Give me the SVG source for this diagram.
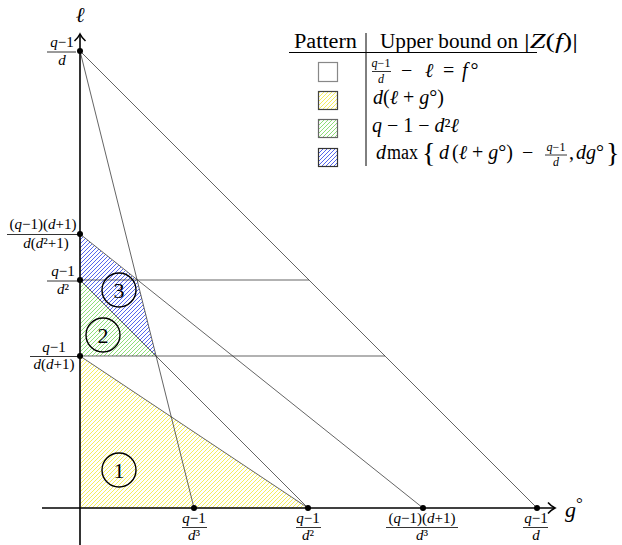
<svg xmlns="http://www.w3.org/2000/svg" width="622" height="545" viewBox="0 0 622 545">
<style>
.t{font-family:"Liberation Serif","DejaVu Serif",serif;fill:#000}
.i{font-style:italic}
.fr{font-size:15px;text-anchor:middle}
.fs{font-size:12px;text-anchor:middle}
.lg{font-size:20px}
.bar{stroke:#000;stroke-width:0.8}
.ln{stroke:#222;stroke-width:0.7;fill:none}
.ax{stroke:#000;stroke-width:1.6;fill:none}
.dot{fill:#000}
.circ{fill:none;stroke:#000;stroke-width:1.4}
.num{font-size:22px;text-anchor:middle}
.box{stroke-width:1.2}
</style>
<defs>
<pattern id="hy" width="4" height="4" patternUnits="userSpaceOnUse"><path d="M-1,1 L1,-1 M0,4 L4,0 M3,5 L5,3" stroke="#f4ee5c" stroke-width="1"/></pattern>
<pattern id="hg" width="4" height="4" patternUnits="userSpaceOnUse"><path d="M-1,1 L1,-1 M0,4 L4,0 M3,5 L5,3" stroke="#8ede78" stroke-width="1"/></pattern>
<pattern id="hb" width="4" height="4" patternUnits="userSpaceOnUse"><path d="M-1,1 L1,-1 M0,4 L4,0 M3,5 L5,3" stroke="#5566ee" stroke-width="1"/></pattern>
</defs>
<rect width="622" height="545" fill="#fff"/>

<g id="regions">
<polygon id="region1" points="80,356 80,508 308,508" fill="url(#hy)"/>
<polygon id="region2" points="80,280 80,356 156,356" fill="url(#hg)"/>
<polygon id="region3" points="80,234 137,280 156,356 80,280" fill="url(#hb)"/>
</g>

<g id="connectors">
<line class="ln" x1="80" y1="51" x2="537" y2="508"/>
<line class="ln" x1="80" y1="51" x2="194" y2="508"/>
<line class="ln" x1="80" y1="234" x2="423" y2="508"/>
<line class="ln" x1="80" y1="280" x2="308" y2="508"/>
<line class="ln" x1="80" y1="356" x2="308" y2="508"/>
<line class="ln" x1="80" y1="280" x2="309" y2="280"/>
<line class="ln" x1="80" y1="356" x2="385" y2="356"/>
</g>

<g id="axes">
<line class="ax" x1="42" y1="508" x2="554" y2="508"/>
<path class="ax" d="M548,502.5 Q551,506 555,508 Q551,510 548,513.5" stroke-width="1.4"/>
<line class="ax" x1="80" y1="545" x2="80" y2="35"/>
<path class="ax" d="M74.5,41 Q78,38 80,34 Q82,38 85.5,41" stroke-width="1.4"/>
<text class="t i" x="80" y="22" font-size="21" text-anchor="middle">ℓ</text>
<text class="t" x="565" y="517" font-size="22"><tspan class="i">g</tspan><tspan font-size="17" dy="-8">°</tspan></text>
</g>

<g id="y1">
<circle class="dot" cx="80" cy="51" r="3"/>
<text class="t fr" x="62" y="47"><tspan class="i">q</tspan>−1</text>
<line class="bar" x1="47" y1="52" x2="76" y2="52"/>
<text class="t fr" x="62" y="65"><tspan class="i">d</tspan></text>
</g>
<g id="y2">
<circle class="dot" cx="80" cy="234" r="3"/>
<text class="t fr" x="43" y="229">(<tspan class="i">q</tspan>−1)(<tspan class="i">d</tspan>+1)</text>
<line class="bar" x1="7" y1="234.5" x2="78" y2="234.5"/>
<text class="t fr" x="46" y="248"><tspan class="i">d</tspan>(<tspan class="i">d</tspan>²+1)</text>
</g>
<g id="y3">
<circle class="dot" cx="80" cy="280" r="3"/>
<text class="t fr" x="63" y="276"><tspan class="i">q</tspan>−1</text>
<line class="bar" x1="47" y1="281" x2="78" y2="281"/>
<text class="t fr" x="63" y="294"><tspan class="i">d</tspan>²</text>
</g>
<g id="y4">
<circle class="dot" cx="80" cy="356" r="3"/>
<text class="t fr" x="54" y="352"><tspan class="i">q</tspan>−1</text>
<line class="bar" x1="30" y1="356.5" x2="78" y2="356.5"/>
<text class="t fr" x="54" y="369"><tspan class="i">d</tspan>(<tspan class="i">d</tspan>+1)</text>
</g>

<g id="x1">
<circle class="dot" cx="194" cy="508" r="3"/>
<text class="t fr" x="194" y="523"><tspan class="i">q</tspan>−1</text>
<line class="bar" x1="182" y1="527.5" x2="207" y2="527.5"/>
<text class="t fr" x="194" y="540"><tspan class="i">d</tspan>³</text>
</g>
<g id="x2">
<circle class="dot" cx="308" cy="508" r="3"/>
<text class="t fr" x="308" y="523"><tspan class="i">q</tspan>−1</text>
<line class="bar" x1="296" y1="527.5" x2="321" y2="527.5"/>
<text class="t fr" x="308" y="540"><tspan class="i">d</tspan>²</text>
</g>
<g id="x3">
<circle class="dot" cx="423" cy="508" r="3"/>
<text class="t fr" x="422" y="523">(<tspan class="i">q</tspan>−1)(<tspan class="i">d</tspan>+1)</text>
<line class="bar" x1="386" y1="527.5" x2="458" y2="527.5"/>
<text class="t fr" x="422" y="540"><tspan class="i">d</tspan>³</text>
</g>
<g id="x4">
<circle class="dot" cx="537" cy="508" r="3"/>
<text class="t fr" x="536" y="523"><tspan class="i">q</tspan>−1</text>
<line class="bar" x1="523" y1="527.5" x2="548" y2="527.5"/>
<text class="t fr" x="536" y="540"><tspan class="i">d</tspan></text>
</g>

<g id="c1"><circle class="circ" cx="119" cy="470" r="17"/><text class="t num" x="119" y="478">1</text></g>
<g id="c2"><circle class="circ" cx="103" cy="335" r="17"/><text class="t num" x="103" y="343">2</text></g>
<g id="c3"><circle class="circ" cx="119" cy="290" r="17"/><text class="t num" x="119" y="298">3</text></g>

<g id="legend">
<text class="t lg" x="294" y="48" textLength="63" lengthAdjust="spacingAndGlyphs">Pattern</text>
<text class="t lg" x="380" y="48" textLength="138" lengthAdjust="spacingAndGlyphs">Upper bound on</text>
<text class="t lg" x="524" y="48" textLength="54" lengthAdjust="spacingAndGlyphs">|<tspan class="i">Z</tspan>(<tspan class="i">f</tspan>)|</text>
<line x1="289" y1="52.5" x2="537" y2="52.5" stroke="#000" stroke-width="1"/>
<line x1="366" y1="33" x2="366" y2="166" stroke="#000" stroke-width="1"/>

<rect class="box" x="318.5" y="62.5" width="19" height="19" fill="#fff" stroke="#888"/>
<rect class="box" x="318.5" y="91.5" width="19" height="18" fill="url(#hy)" stroke="#444"/>
<rect class="box" x="318.5" y="119.5" width="19" height="18" fill="url(#hg)" stroke="#666"/>
<rect class="box" x="318.5" y="148.5" width="19" height="18" fill="url(#hb)" stroke="#333"/>

<text class="t fs" x="381" y="67"><tspan class="i">q</tspan>−1</text>
<line class="bar" x1="372" y1="71.5" x2="391" y2="71.5"/>
<text class="t fs" x="381" y="82.5"><tspan class="i">d</tspan></text>
<text class="t lg" x="401" y="77">−</text>
<text class="t lg i" x="425" y="77">ℓ</text>
<text class="t lg" x="443" y="77">=</text>
<text class="t lg" x="462" y="77"><tspan class="i">f</tspan><tspan dx="3">°</tspan></text>

<text class="t lg" x="373" y="104"><tspan class="i">d</tspan>(<tspan class="i">ℓ</tspan> + <tspan class="i">g</tspan>°)</text>
<text class="t lg" x="372" y="132"><tspan class="i">q</tspan> − 1 − <tspan class="i">d</tspan>²<tspan class="i">ℓ</tspan></text>

<text class="t lg i" x="376" y="159">d</text>
<text class="t lg" x="387" y="159" textLength="31" lengthAdjust="spacingAndGlyphs">max</text>
<text class="t" x="422" y="162" font-size="28">{</text>
<text class="t lg i" x="439" y="159">d</text>
<text class="t lg" x="452" y="159">(<tspan class="i">ℓ</tspan> + <tspan class="i">g</tspan>°)</text>
<text class="t lg" x="522" y="159">−</text>
<text class="t fs" x="556" y="150.5"><tspan class="i">q</tspan>−1</text>
<line class="bar" x1="545" y1="155" x2="567" y2="155"/>
<text class="t fs" x="556" y="166"><tspan class="i">d</tspan></text>
<text class="t lg" x="569" y="159">,</text>
<text class="t lg" x="576" y="159"><tspan class="i">dg</tspan>°</text>
<text class="t" x="606" y="162" font-size="28">}</text>
</g>
</svg>
